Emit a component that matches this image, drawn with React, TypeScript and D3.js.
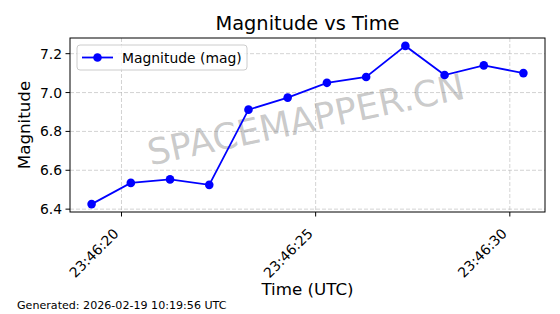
import React from "react";
import * as d3 from "d3";

const timeSeconds = [19.23, 20.24, 21.25, 22.26, 23.27, 24.28, 25.29, 26.3, 27.31, 28.32, 29.33, 30.35];
const magnitudes = [6.426, 6.535, 6.553, 6.525, 6.912, 6.974, 7.05, 7.08, 7.24, 7.09, 7.14, 7.1];
const xTickValues = [20, 25, 30];
const xTickLabels = ["23:46:20", "23:46:25", "23:46:30"];
const yTickValues = [6.4, 6.6, 6.8, 7.0, 7.2];

const W = 560, H = 314;
const L = 70, R = 545, T = 38, B = 212;
const FONT = "DejaVu Sans, sans-serif";

export default function App() {
  const xmin = d3.min(timeSeconds)!, xmax = d3.max(timeSeconds)!;
  const ymin = d3.min(magnitudes)!, ymax = d3.max(magnitudes)!;
  const xm = (xmax - xmin) * 0.05, ym = (ymax - ymin) * 0.05;
  const x = d3.scaleLinear().domain([xmin - xm, xmax + xm]).range([L, R]);
  const y = d3.scaleLinear().domain([ymin - ym, ymax + ym]).range([B, T]);
  const pts = timeSeconds.map((t, i) => [t, magnitudes[i]] as [number, number]);
  const line = d3.line<[number, number]>().x(d => x(d[0])).y(d => y(d[1]));
  const cx = (L + R) / 2;
  const wy = 122;
  return (
    <svg width={W} height={H} style={{ position: "absolute", left: 0, top: 0, background: "#fff" }} fontFamily={FONT}>
      <rect x={0} y={0} width={W} height={H} fill="#fff" />
      {xTickValues.map(v => (
        <line key={"gx" + v} x1={x(v)} x2={x(v)} y1={T} y2={B} stroke="#b0b0b0" strokeOpacity={0.7} strokeDasharray="4,2" strokeWidth={0.8} />
      ))}
      {yTickValues.map(v => (
        <line key={"gy" + v} x1={L} x2={R} y1={y(v)} y2={y(v)} stroke="#b0b0b0" strokeOpacity={0.7} strokeDasharray="4,2" strokeWidth={0.8} />
      ))}
      <text x={cx - 1} y={wy} fontSize={36} fill="#808080" fillOpacity={0.42} textAnchor="middle" dominantBaseline="middle" transform={`rotate(-12, ${cx - 1}, ${wy})`}>SPACEMAPPER.CN</text>
      <path d={line(pts)!} fill="none" stroke="#0000ff" strokeWidth={1.8} />
      {pts.map((p, i) => (
        <circle key={i} cx={x(p[0])} cy={y(p[1])} r={4.3} fill="#0000ff" />
      ))}
      <rect x={L} y={T} width={R - L} height={B - T} fill="none" stroke="#000" strokeWidth={1} />
      {xTickValues.map((v, i) => (
        <g key={"xt" + v}>
          <line x1={x(v)} x2={x(v)} y1={B} y2={B + 4.5} stroke="#000" />
          <text x={x(v) - 2} y={B + 22.5} fontSize={13.9} textAnchor="end" transform={`rotate(-45, ${x(v) - 2}, ${B + 22.5})`}>{xTickLabels[i]}</text>
        </g>
      ))}
      {yTickValues.map(v => (
        <g key={"yt" + v}>
          <line x1={L - 4.5} x2={L} y1={y(v)} y2={y(v)} stroke="#000" />
          <text x={L - 8} y={y(v)} fontSize={13.9} textAnchor="end" dominantBaseline="central">{v.toFixed(1)}</text>
        </g>
      ))}
      <text x={cx} y={30} fontSize={19.4} textAnchor="middle">Magnitude vs Time</text>
      <text x={cx} y={295} fontSize={16.7} textAnchor="middle">Time (UTC)</text>
      <text x={0} y={0} fontSize={16.7} textAnchor="middle" transform={`translate(30, ${(T + B) / 2}) rotate(-90)`}>Magnitude</text>
      <g>
        <rect x={77} y={45} width={170} height={25} rx={3} fill="#fff" fillOpacity={0.8} stroke="#ccc" />
        <line x1={82} x2={113} y1={57.5} y2={57.5} stroke="#0000ff" strokeWidth={1.8} />
        <circle cx={97.5} cy={57.5} r={4.3} fill="#0000ff" />
        <text x={122} y={57.5} fontSize={13.9} dominantBaseline="central">Magnitude (mag)</text>
      </g>
      <text x={17} y={309} fontSize={11.1}>Generated: 2026-02-19 10:19:56 UTC</text>
    </svg>
  );
}
